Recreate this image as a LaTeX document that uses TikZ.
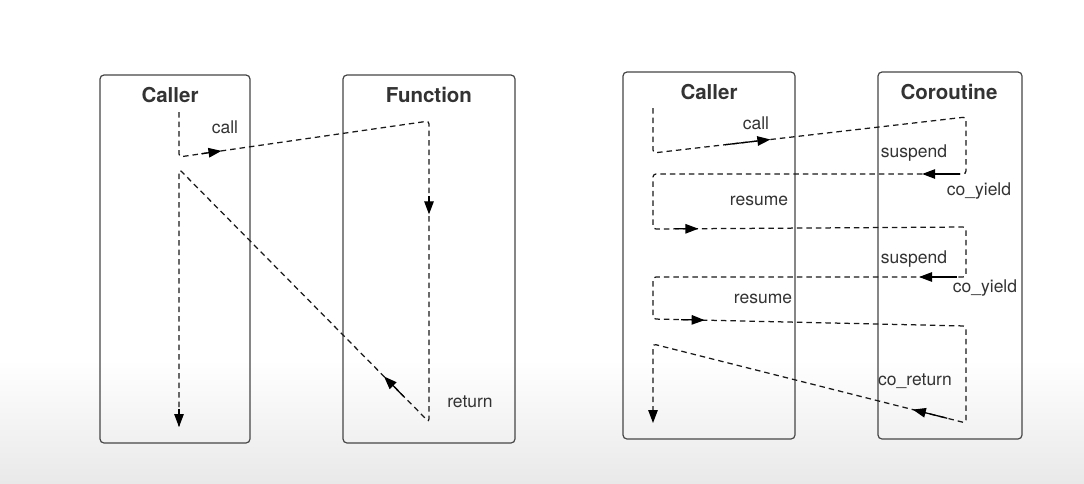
\documentclass[tikz,border=0pt]{standalone}
\usepackage{fontspec}
\setmainfont{TeX Gyre Heros}
\usetikzlibrary{arrows.meta,calc}
\definecolor{bgbot}{RGB}{233,233,233}
\definecolor{boxline}{RGB}{70,70,70}
\begin{document}
\begin{tikzpicture}[x=1pt,y=-1pt,
  lane/.style={draw=boxline,line width=1.2pt,rounded corners=4pt,minimum width=#1},
  title/.style={font=\fontsize{20.5}{24}\selectfont\bfseries,text=black!80},
  lbl/.style={font=\fontsize{17.5}{21}\selectfont,text=black!80},
  flow/.style={draw=black!90,line width=1.25pt,dash pattern=on 5.5pt off 4pt,rounded corners=3pt},
  tip/.style={draw=black,line width=1.25pt,-{Triangle[length=13pt,width=9.5pt]}}]
\useasboundingbox (0,0) rectangle (1084,483);
\fill[white] (0,0) rectangle (1084,360);
\shade[top color=white,bottom color=bgbot] (0,359.5) rectangle (1084,483);
% boxes
\node[lane=150pt,minimum height=368pt] (lcaller) at (175,259) {};
\node[lane=172pt,minimum height=368pt] (func) at (429,259) {};
\node[lane=172pt,minimum height=367pt] (rcaller) at (709,255.5) {};
\node[lane=144pt,minimum height=367pt] (corout) at (950,255.5) {};
% titles
\node[title] (t1) at (170,95) {Caller};
\node[title] (t2) at (429,95) {Function};
\node[title] (t3) at (709,92) {Caller};
\node[title] (t4) at (949,92) {Coroutine};
% left path
\coordinate (L1) at (179,112);
\coordinate (L2) at (179,157);
\coordinate (L3) at (429,121);
\coordinate (L4) at (429,422);
\coordinate (L5) at (179,169);
\coordinate (L6) at (179,427);
\draw[flow] (L1) -- (L2) -- (L3) -- (L4) -- (L5) -- (L6);
\draw[tip] ($(L2)!0.09!(L3)$) -- ($(L2)!0.17!(L3)$);
\draw[tip] ($(L3)!0.25!(L4)$) -- ($(L3)!0.31!(L4)$);
\draw[tip] ($(L4)!0.10!(L5)$) -- ($(L4)!0.18!(L5)$);
\draw[tip] ($(L5)!0.93!(L6)$) -- (L6);
\node[lbl] (c1) at (225,127) {call};
\node[lbl] (r1) at (470,402) {return};
% right path
\coordinate (R1) at (653,108);
\coordinate (R2) at (653,153);
\coordinate (R3) at (966,117);
\coordinate (R4) at (966,174);
\coordinate (R5) at (653,174);
\coordinate (R6) at (653,229);
\coordinate (R7) at (966,227);
\coordinate (R8) at (966,277);
\coordinate (R9) at (653,277);
\coordinate (R10) at (653,319);
\coordinate (R11) at (966,326);
\coordinate (R12) at (966,423);
\coordinate (R13) at (653,344);
\coordinate (R14) at (653,423);
\draw[flow] (R1) -- (R2) -- (R3) -- (R4) -- (R5) -- (R6) -- (R7) -- (R8) -- (R9) -- (R10) -- (R11) -- (R12) -- (R13) -- (R14);
\draw[tip] ($(R2)!0.23!(R3)$) -- ($(R2)!0.375!(R3)$);
\draw[tip] ($(R4)!0.02!(R5)$) -- ($(R4)!0.14!(R5)$);
\draw[tip] ($(R6)!0.07!(R7)$) -- ($(R6)!0.145!(R7)$);
\draw[tip] ($(R8)!0.03!(R9)$) -- ($(R8)!0.15!(R9)$);
\draw[tip] ($(R10)!0.09!(R11)$) -- ($(R10)!0.165!(R11)$);
\draw[tip] ($(R12)!0.06!(R13)$) -- ($(R12)!0.17!(R13)$);
\draw[tip] ($(R13)!0.88!(R14)$) -- (R14);
\node[lbl] (c2) at (756,123) {call};
\node[lbl] (s1) at (914,153) {suspend};
\node[lbl] (y1) at (979,191) {co\_yield};
\node[lbl] (m1) at (759,201) {resume};
\node[lbl] (s2) at (914,259) {suspend};
\node[lbl] (y2) at (985,288) {co\_yield};
\node[lbl] (m2) at (763,299) {resume};
\node[lbl] (cr) at (915,381) {co\_return};
\end{tikzpicture}
\end{document}
